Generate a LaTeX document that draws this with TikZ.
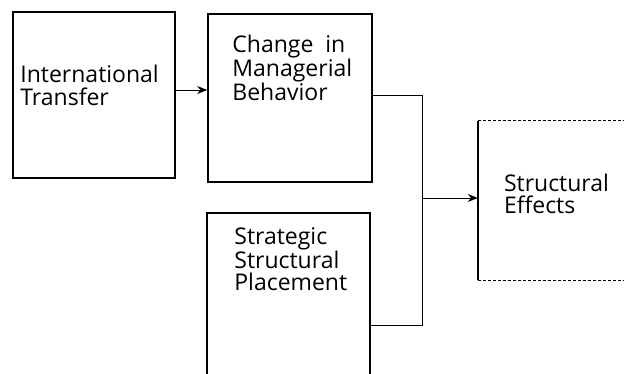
\documentclass[tikz,border=0pt]{standalone}
\usepackage{fontspec}
\setmainfont{Open Sans}
\usetikzlibrary{arrows.meta,calc}

\begin{document}
\begin{tikzpicture}[x=1pt,y=-1pt,
			box/.style={
				draw,
				line width=1.6pt,
				inner sep=0pt
			},
			lbl/.style={
				anchor=north west,
				align=left,
				inner sep=0pt,
				font=\fontsize{23}{22.5}\selectfont
			},
			wire/.style={line width=1pt},
			conn/.style={line width=1pt,-{Stealth[length=10pt,width=8pt]}}
			]
			\useasboundingbox (0,0) rectangle (624,373);
			\clip (0,0) rectangle (624,373);
			% boxes
			\node[box,minimum width=162pt,minimum height=166pt](tr) at (94,95) {};
			\node[box,minimum width=164pt,minimum height=168pt](mb) at (290,98) {};
			\node[box,minimum width=163pt,minimum height=224pt](sp) at (288.5,325) {};
			\node[inner sep=0pt,minimum width=240pt,minimum height=159pt](se) at (598,200.5) {};
			\draw[line width=1.6pt] (se.north west) -- (se.south west);
			\draw[line width=1pt,dash pattern=on 3pt off 2pt] (se.north west) -- (se.north east);
			\draw[line width=1pt,dash pattern=on 3pt off 2pt] (se.south west) -- (se.south east);
			% labels
			\node[lbl](trl) at ([shift={(8,54)}]tr.north west) {International\\Transfer};
			\node[lbl](mbl) at ([shift={(25,22)}]mb.north west) {Change\ \ in\\Managerial\\Behavior};
			\node[lbl](spl) at ([shift={(28,15)}]sp.north west) {Strategic\\Structural\\Placement};
			\node[lbl](sel) at ([shift={(26,53)}]se.north west) {Structural\\Effects};
			% connectors
			\coordinate (jn) at (422,198);
			\draw[conn] ([yshift=5pt]tr.east) -- ([yshift=5pt]tr.east -| mb.west);
			\draw[wire] ([yshift=3pt]mb.east) -| (jn);
			\draw[wire] (sp.east) -| (jn);
			\draw[conn] (jn) -- (jn -| se.west);
		\end{tikzpicture}
\end{document}
